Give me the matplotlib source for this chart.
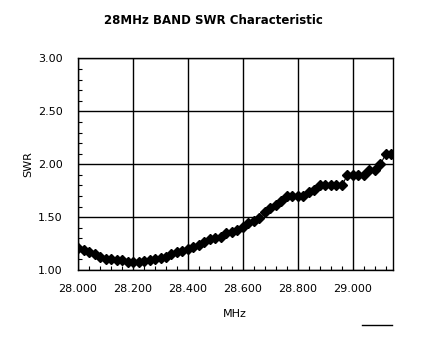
import matplotlib.pyplot as plt
from matplotlib.lines import Line2D
import numpy as np

# frequency steps of 20 kHz from 28.000 to 29.140 MHz
freq_start = 28.00
freq_step = 0.02
swr = [1.21, 1.19, 1.17, 1.15, 1.12, 1.10, 1.10, 1.095, 1.09, 1.08,
       1.075, 1.075, 1.085, 1.095, 1.105, 1.115, 1.12, 1.15, 1.17, 1.18,
       1.20, 1.22, 1.24, 1.26, 1.29, 1.30, 1.31, 1.35, 1.36, 1.38,
       1.41, 1.44, 1.46, 1.49, 1.55, 1.59, 1.61, 1.65, 1.70, 1.70,
       1.70, 1.70, 1.74, 1.76, 1.80, 1.80, 1.80, 1.80, 1.80, 1.90,
       1.90, 1.90, 1.90, 1.95, 1.95, 2.00, 2.10, 2.10]
freq = [round(freq_start + i * freq_step, 3) for i in range(len(swr))]

x_ticks = [28.0, 28.2, 28.4, 28.6, 28.8, 29.0]
y_ticks = [1.0, 1.5, 2.0, 2.5, 3.0]

plt.rcParams['font.family'] = 'DejaVu Sans'

fig = plt.figure(figsize=(4.27, 3.38), dpi=100)
ax = fig.add_axes([0.1827, 0.2012, 0.7373, 0.6258])

ax.plot(freq, swr, color='black', linewidth=0.8, marker='D', markersize=4.8)

ax.set_xlim(28.0, 29.145)
ax.set_ylim(1.0, 3.0)
ax.set_xticks(x_ticks)
ax.set_xticklabels(['%.3f' % v for v in x_ticks], fontsize=8)
ax.set_yticks(y_ticks)
ax.set_yticklabels(['%.2f' % v for v in y_ticks], fontsize=8)
ax.set_xticks(np.arange(28.0, 29.145, 0.04), minor=True)
ax.set_yticks(np.arange(1.0, 3.0, 0.1), minor=True)
ax.tick_params(axis='x', which='major', length=0, pad=10)
ax.tick_params(axis='y', which='major', length=0, pad=11)
ax.tick_params(which='minor', direction='in', length=3, width=0.8)
ax.grid(True, which='major', color='black', linewidth=1)

for s in ax.spines.values():
    s.set_linewidth(1)

ax.set_xlabel('MHz', fontsize=8)
ax.set_ylabel('SWR', fontsize=8)
ax.xaxis.set_label_coords(0.499, -0.184)
ax.yaxis.set_label_coords(-0.143, 0.5)
fig.suptitle('28MHz BAND SWR Characteristic', fontsize=8.5, fontweight='bold',
             x=0.5, y=0.958)

fig.add_artist(Line2D([0.848, 0.918], [0.038, 0.038], color='black', linewidth=1))

fig.savefig('out.png', dpi=100)
